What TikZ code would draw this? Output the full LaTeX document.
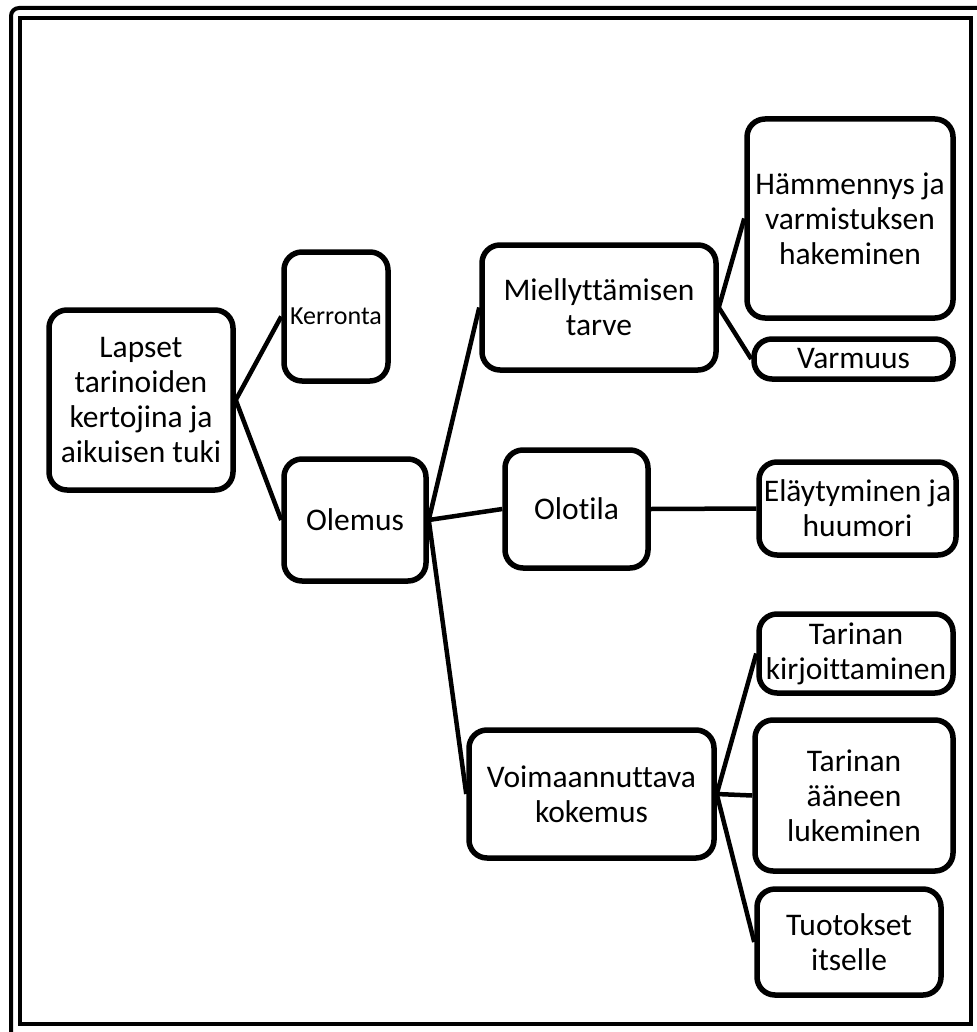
\documentclass[tikz,border=0pt]{standalone}
\usepackage{fontspec}
\setmainfont{Carlito}[Ligatures={NoCommon,NoContextual}]
\begin{document}
\begin{tikzpicture}[x=1pt,y=-1pt,
  box/.style={draw=black, line width=5.5pt, rounded corners=18pt, fill=white,
    align=center, inner sep=0pt, font=\fontsize{31.5}{35}\selectfont},
  link/.style={draw=black, line width=4.5pt}]
\useasboundingbox (0,0) rectangle (976,1032);
% frame
\draw[line width=4pt, rounded corners=8pt] (11,1040) -- (11,8) -- (980,8);
\draw[line width=4pt] (20,18) rectangle (971,1024);
% nodes
\node[box, minimum width=184, minimum height=180] (lapset) at (141,400) {Lapset\\tarinoiden\\kertojina ja\\aikuisen tuki};
\node[box, minimum width=104, minimum height=129, font=\fontsize{26}{32}\selectfont] (kerronta) at (336,316.5) {Kerronta};
\node[box, minimum width=142, minimum height=122] (olemus) at (355,520) {Olemus};
\node[box, minimum width=234, minimum height=125] (miell) at (599,307.5) {Miellyttämisen\\tarve};
\node[box, minimum width=206, minimum height=199] (hamm) at (850,218.5) {Hämmennys ja\\varmistuksen\\hakeminen};
\node[box, minimum width=199, minimum height=40] (varm) at (853.5,359) {Varmuus};
\node[box, minimum width=143, minimum height=118] (olotila) at (576.5,509) {Olotila};
\node[box, minimum width=197, minimum height=93] (elay) at (857.5,508.5) {Eläytyminen ja\\huumori};
\node[box, minimum width=245, minimum height=128] (voima) at (591.5,794) {Voimaannuttava\\kokemus};
\node[box, minimum width=194, minimum height=79] (kirj) at (856,653.5) {Tarinan\\kirjoittaminen};
\node[box, minimum width=198, minimum height=151] (aaneen) at (854,795.5) {Tarinan\\ääneen\\lukeminen};
\node[box, minimum width=184, minimum height=106] (tuot) at (849,942) {Tuotokset\\itselle};
% connectors
\draw[link] (lapset.east) -- (kerronta.west);
\draw[link] (lapset.east) -- (olemus.west);
\draw[link] (olemus.east) -- (miell.west);
\draw[link] (olemus.east) -- (olotila.west);
\draw[link] (olemus.east) -- (voima.west);
\draw[link] (miell.east) -- (hamm.west);
\draw[link] (miell.east) -- (varm.west);
\draw[link] (olotila.east) -- (elay.west);
\draw[link] (voima.east) -- (kirj.west);
\draw[link] (voima.east) -- (aaneen.west);
\draw[link] (voima.east) -- (tuot.west);
\end{tikzpicture}
\end{document}
